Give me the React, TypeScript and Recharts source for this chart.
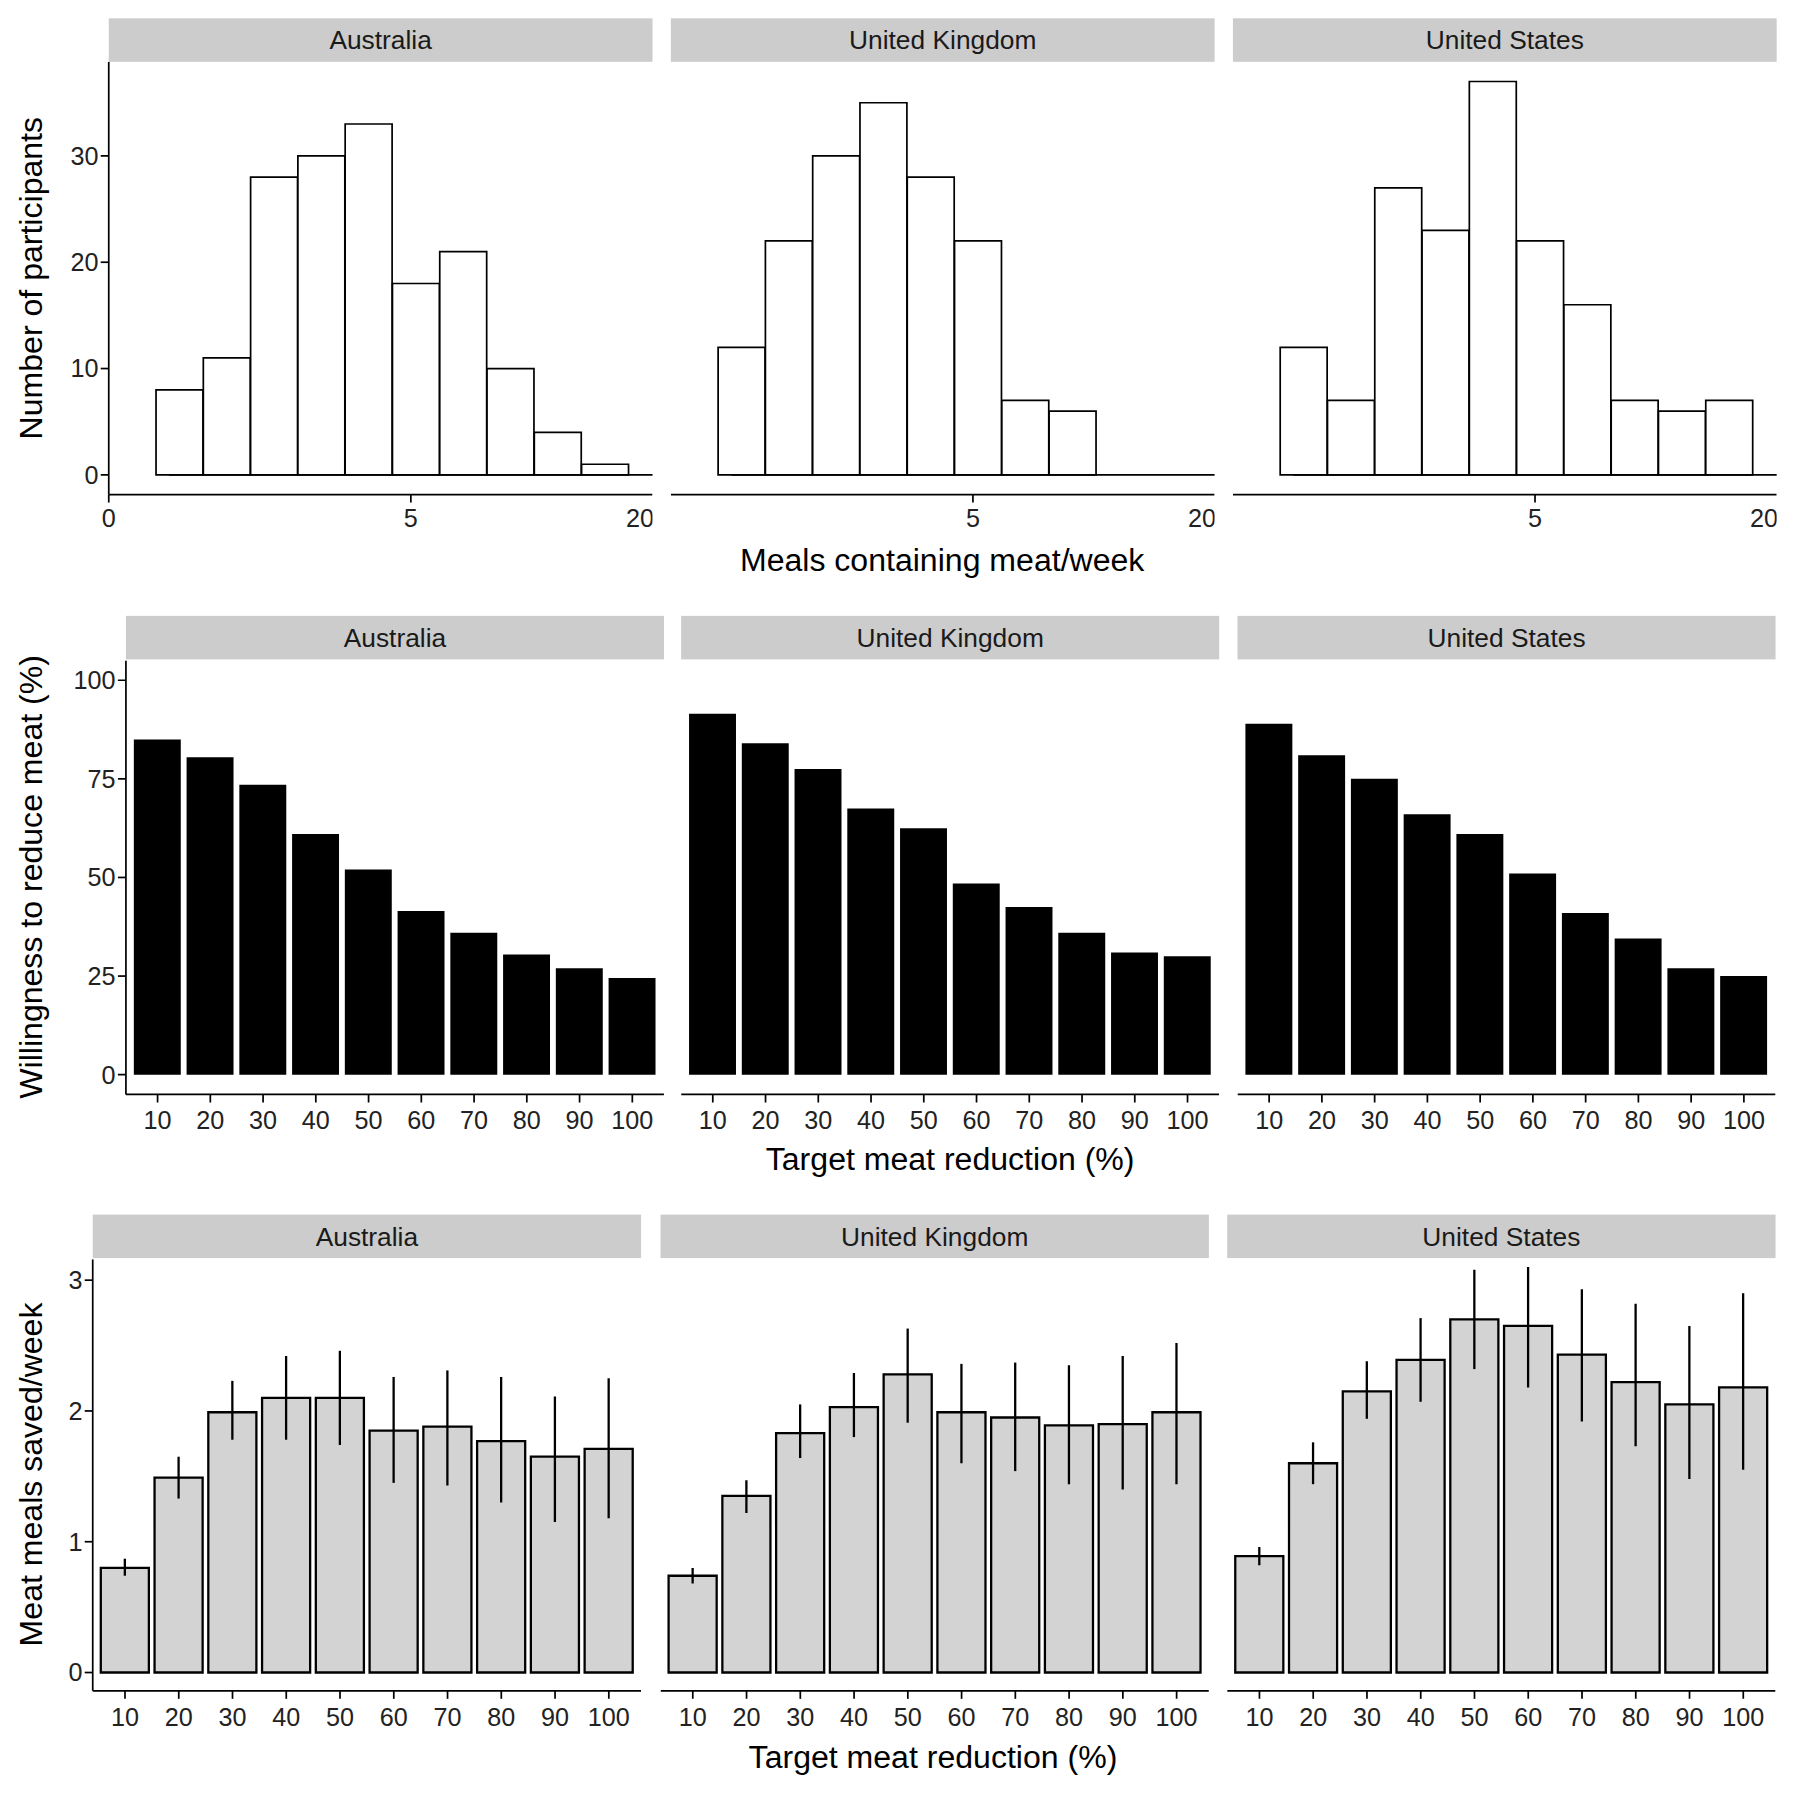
import React from "react";
import { BarChart, Bar, XAxis, YAxis, ErrorBar, ReferenceLine } from "recharts";

const countries = ["Australia", "United Kingdom", "United States"];

// histogram: meals containing meat per week, bins of width 2 starting at 1
const binStarts = [1, 3, 5, 7, 9, 11, 13, 15, 17, 19];
const binWidth = 2;
const histAU = [8, 11, 28, 30, 33, 18, 21, 10, 4, 1];
const histUK = [12, 22, 30, 35, 28, 22, 7, 6, 0, 0];
const histUS = [12, 7, 27, 23, 37, 22, 16, 7, 6, 7];
const histTicks = [0, 5, 10, 15, 20];
const countTicks = [0, 10, 20, 30];

const targets = ["10", "20", "30", "40", "50", "60", "70", "80", "90", "100"];

// willingness to reduce meat (%)
const willAU = [85, 80.5, 73.5, 61, 52, 41.5, 36, 30.5, 27, 24.5];
const willUK = [91.5, 84, 77.5, 67.5, 62.5, 48.5, 42.5, 36, 31, 30];
const willUS = [89, 81, 75, 66, 61, 51, 41, 34.5, 27, 25];
const willTicks = [0, 25, 50, 75, 100];

// meat meals saved per week, with interval bounds
const savedAU = [0.8, 1.49, 1.99, 2.1, 2.1, 1.85, 1.88, 1.77, 1.65, 1.71];
const lowAU = [0.74, 1.33, 1.78, 1.78, 1.74, 1.45, 1.43, 1.3, 1.15, 1.18];
const highAU = [0.87, 1.65, 2.23, 2.42, 2.46, 2.26, 2.31, 2.26, 2.11, 2.25];
const savedUK = [0.74, 1.35, 1.83, 2.03, 2.28, 1.99, 1.95, 1.89, 1.9, 1.99];
const lowUK = [0.68, 1.22, 1.64, 1.8, 1.91, 1.6, 1.54, 1.44, 1.4, 1.44];
const highUK = [0.8, 1.47, 2.05, 2.29, 2.63, 2.36, 2.37, 2.35, 2.42, 2.52];
const savedUS = [0.89, 1.6, 2.15, 2.39, 2.7, 2.65, 2.43, 2.22, 2.05, 2.18];
const lowUS = [0.82, 1.44, 1.94, 2.07, 2.32, 2.18, 1.92, 1.73, 1.48, 1.55];
const highUS = [0.96, 1.76, 2.38, 2.71, 3.08, 3.1, 2.93, 2.82, 2.65, 2.9];
const savedTicks = [0, 1, 2, 3];

const FONT = "'Liberation Sans', Arial, sans-serif";
const tick = { fontSize: 22, fill: "#222", fontFamily: FONT };
const XH = 50;

const Strip = ({ left, top, width, label }: any) => (
  <div
    style={{
      position: "absolute", left, top, width, height: 38, background: "#cccccc",
      fontFamily: FONT, fontSize: 23, color: "#1a1a1a", display: "flex",
      alignItems: "center", justifyContent: "center",
    }}
  >
    {label}
  </div>
);

const Label = ({ x, y, text, rotate }: any) => (
  <div
    style={{
      position: "absolute", left: x, top: y, fontFamily: FONT, fontSize: 28, color: "#000",
      whiteSpace: "nowrap", transform: `translate(-50%,-50%)${rotate ? " rotate(-90deg)" : ""}`,
    }}
  >
    {text}
  </div>
);

const HistPanel = ({ left, top, w, h, counts, showY }: any) => {
  const yw = showY ? 95 : 0;
  const unit = w / 23;
  const data = binStarts.map((b, i) => ({ bin: b, n: counts[i] }));
  const lastEdge = binStarts[binStarts.length - 1] + binWidth;
  return (
    <div style={{ position: "absolute", left: left - yw, top }}>
      <BarChart width={w + yw} height={h + XH} data={data} barCategoryGap={0}
        margin={{ top: 0, right: 0, bottom: 0, left: 0 }}>
        <XAxis xAxisId="b" dataKey="bin" hide height={0} padding={{ left: 2 * unit, right: unit }} />
        <XAxis xAxisId="n" type="number" domain={[-1, 22]} ticks={histTicks} height={XH}
          allowDataOverflow tick={tick} tickSize={7} tickMargin={6} stroke="#000" strokeWidth={1.5} />
        <YAxis hide={!showY} width={yw} domain={[-1.85, 38.85]} ticks={countTicks}
          allowDataOverflow tick={tick} tickSize={7} stroke="#000" strokeWidth={1.5} />
        <ReferenceLine xAxisId="n" segment={[{ x: binStarts[0], y: 0 }, { x: lastEdge, y: 0 }]}
          stroke="#000" strokeWidth={1.5} ifOverflow="visible" />
        <Bar xAxisId="b" dataKey="n" fill="#fff" stroke="#000" strokeWidth={1.5}
          isAnimationActive={false} />
      </BarChart>
    </div>
  );
};

const CatPanel = ({ left, top, w, h, vals, lows, highs, showY, yw, domain, ticks, fill, stroke }: any) => {
  const width = showY ? yw : 0;
  const data = targets.map((t, i) => ({
    t,
    v: vals[i],
    err: lows ? [vals[i] - lows[i], highs[i] - vals[i]] : undefined,
  }));
  const pad = (w / 10.2) * 0.1;
  return (
    <div style={{ position: "absolute", left: left - width, top }}>
      <BarChart width={w + width} height={h + XH} data={data} barCategoryGap="5%"
        margin={{ top: 0, right: 0, bottom: 0, left: 0 }}>
        <XAxis dataKey="t" height={XH} padding={{ left: pad, right: pad }} interval={0}
          tick={tick} tickSize={7} tickMargin={8} stroke="#000" strokeWidth={1.5} />
        <YAxis hide={!showY} width={width} domain={domain} ticks={ticks} allowDataOverflow
          tick={tick} tickSize={7} stroke="#000" strokeWidth={1.5} />
        <Bar dataKey="v" fill={fill} stroke={stroke} strokeWidth={stroke ? 2 : 0}
          isAnimationActive={false}>
          {lows && <ErrorBar dataKey="err" width={0} stroke="#000" strokeWidth={2} />}
        </Bar>
      </BarChart>
    </div>
  );
};

export default function App() {
  const hists = [histAU, histUK, histUS];
  const wills = [willAU, willUK, willUS];
  const saved = [savedAU, savedUK, savedUS];
  const lows = [lowAU, lowUK, lowUS];
  const highs = [highAU, highUK, highUS];
  const r1 = [95, 586, 1077];
  const r2 = [110, 595, 1081];
  const r3 = [81, 577, 1072];
  return (
    <div style={{ position: "absolute", left: 0, top: 0, width: 1568, height: 1568, background: "#fff",
      transform: `scale(${1795 / 1568})`, transformOrigin: "0 0" }}>
      {countries.map((c, i) => (
        <React.Fragment key={c}>
          <Strip left={r1[i]} top={16} width={475} label={c} />
          <HistPanel left={r1[i]} top={54} w={475} h={378} counts={hists[i]} showY={i === 0} />
          <Strip left={r2[i]} top={538} width={470} label={c} />
          <CatPanel left={r2[i]} top={577} w={470} h={379} vals={wills[i]} showY={i === 0} yw={110}
            domain={[-5, 105]} ticks={willTicks} fill="#000" />
          <Strip left={r3[i]} top={1061} width={479} label={c} />
          <CatPanel left={r3[i]} top={1100} w={479} h={377} vals={saved[i]} lows={lows[i]}
            highs={highs[i]} showY={i === 0} yw={81} domain={[-0.14, 3.16]} ticks={savedTicks}
            fill="#d3d3d3" stroke="#000" />
        </React.Fragment>
      ))}
      <Label x={823} y={490} text="Meals containing meat/week" />
      <Label x={28} y={243} text="Number of participants" rotate />
      <Label x={830} y={1013} text="Target meat reduction (%)" />
      <Label x={28} y={766} text="Willingness to reduce meat (%)" rotate />
      <Label x={815} y={1535} text="Target meat reduction (%)" />
      <Label x={28} y={1288} text="Meat meals saved/week" rotate />
    </div>
  );
}
